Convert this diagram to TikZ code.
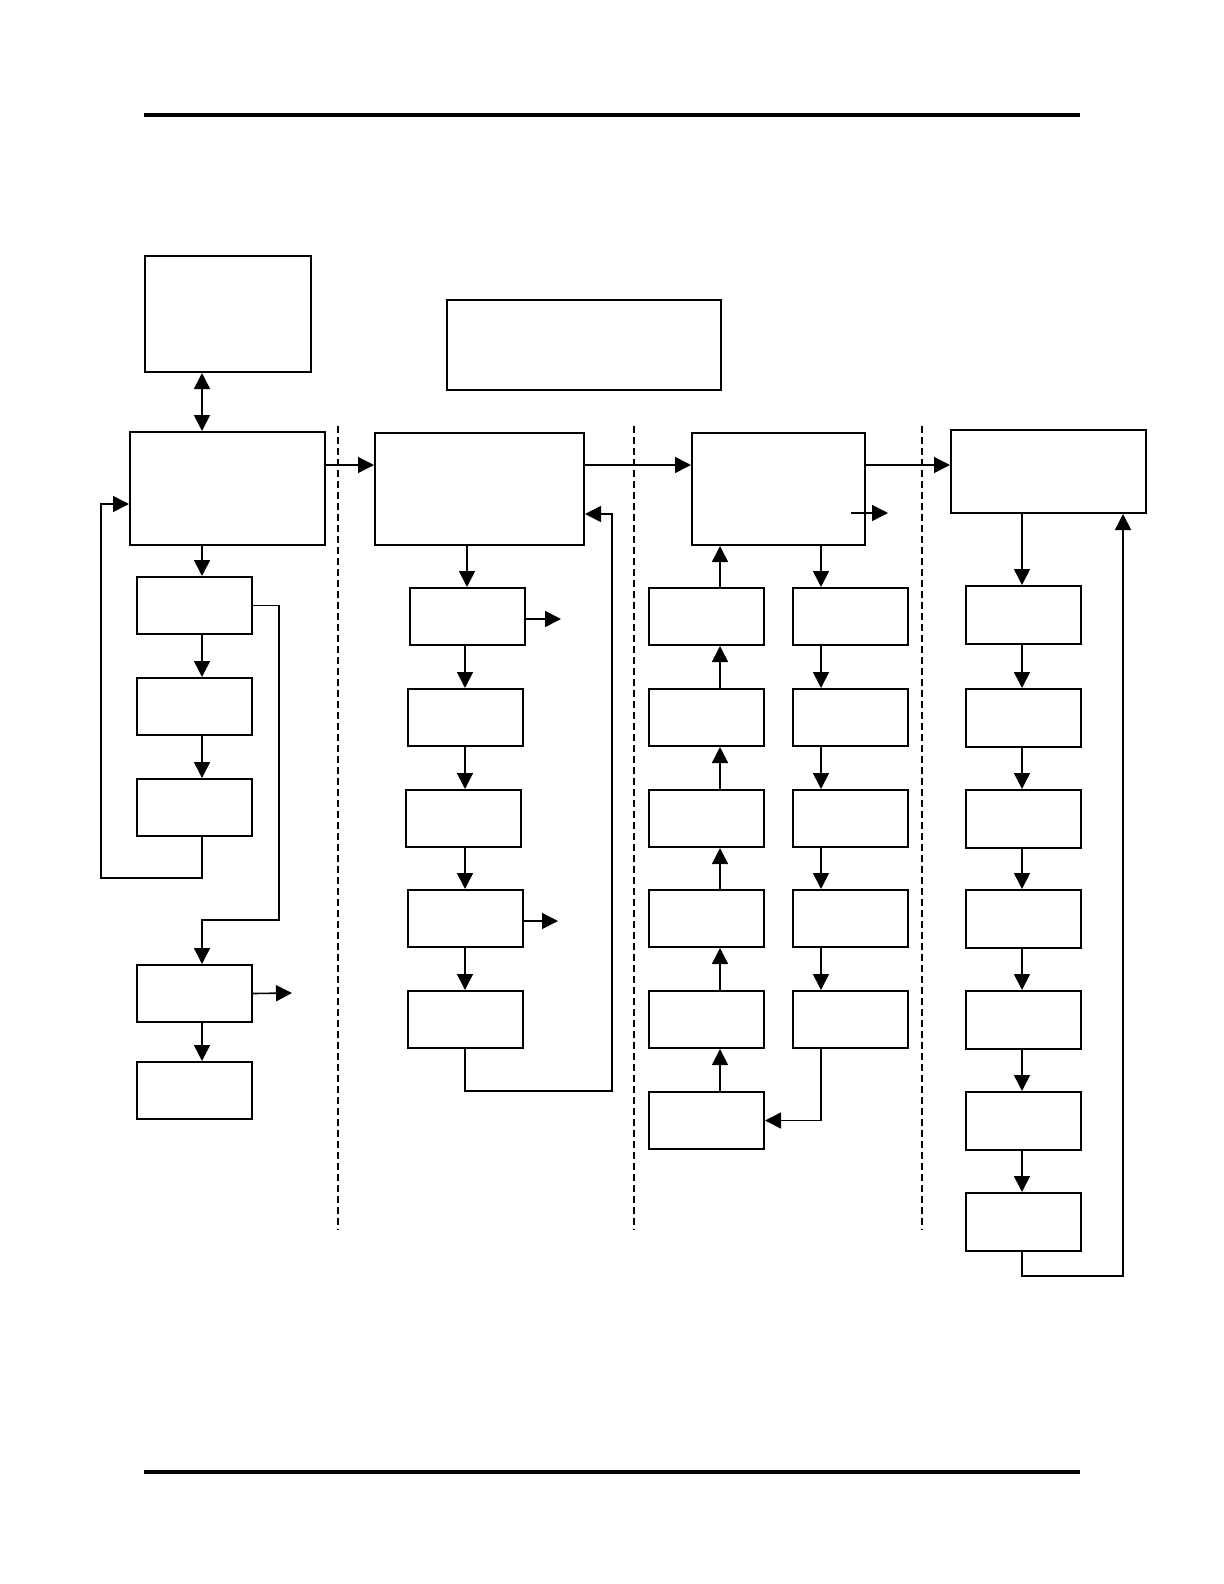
\documentclass[tikz,border=0pt]{standalone}
\usepackage{tikz}
\usetikzlibrary{positioning, arrows.meta, calc}

\begin{document}
\begin{tikzpicture}[
    x=0.5pt, y=-0.5pt,
    >={Triangle[length=8pt, width=8pt]},
    box/.style={draw, line width=1pt, inner sep=0pt, anchor=north west},
    small/.style={box, minimum width=57.5pt, minimum height=28.5pt},
    arr/.style={->, line width=0.8pt},
    sep/.style={line width=0.6pt, dash pattern=on 3.5pt off 2pt},
    rule/.style={line width=1.6pt}
]
\useasboundingbox (0,0) rectangle (1224,1584);

% Page rules
\coordinate (tl) at (144,115);
\coordinate (tr) at (1080,115);
\coordinate (bl) at (144,1472);
\coordinate (br) at (1080,1472);
\draw[rule] (tl) -- (tr);
\draw[rule] (bl) -- (br);

% Column separators
\draw[sep] (338,426) -- (338,1230);
\draw[sep] (634,426) -- (634,1230);
\draw[sep] (922,426) -- (922,1230);

% Top boxes
\node[box, minimum width=83pt, minimum height=58pt] (A) at (144,255) {};
\node[box, minimum width=137pt, minimum height=45pt] (B) at (446,299) {};

% Main boxes
\node[box, minimum width=97.5pt, minimum height=56.5pt] (C1) at (129,431) {};
\node[box, minimum width=104.5pt, minimum height=56pt] (C2) at (374,432) {};
\node[box, minimum width=86.5pt, minimum height=56pt] (C3) at (691,432) {};
\node[box, minimum width=97.5pt, minimum height=41.5pt] (C4) at (950,429) {};

% Column 1
\node[small] (L1) at (136,576) {};
\node[small] (L2) at (136,677) {};
\node[small] (L3) at (136,778) {};
\node[small] (L4) at (136,964) {};
\node[small] (L5) at (136,1061) {};

% Column 2
\node[small] (M1) at (409,587) {};
\node[small] (M2) at (407,688) {};
\node[small] (M3) at (405,789) {};
\node[small] (M4) at (407,889) {};
\node[small] (M5) at (407,990) {};

% Column 3
\foreach \i/\y in {1/587, 2/688, 3/789, 4/889, 5/990, 6/1091}
  \node[small] (U\i) at (648,\y) {};
\foreach \i/\y in {1/587, 2/688, 3/789, 4/889, 5/990}
  \node[small] (R\i) at (792,\y) {};

% Column 4
\foreach \i/\y in {1/585, 2/688, 3/789, 4/889, 5/990, 6/1091, 7/1192}
  \node[small, minimum height=29pt] (D\i) at (965,\y) {};

% Helper coordinates
\coordinate (colA) at (202,0);
\coordinate (colB) at (465,0);
\coordinate (colB1) at (467,0);
\coordinate (colU) at (720,0);
\coordinate (colR) at (821,0);
\coordinate (colD) at (1022,0);
\coordinate (rowH) at (0,465);
\coordinate (fbL) at (101,878);
\coordinate (skip) at (279,920);
\coordinate (fbM) at (612,1091);
\coordinate (fbD) at (1123,1276);
\coordinate (outL4) at (292,993);
\coordinate (outM1) at (561,619);
\coordinate (outM4) at (558,921);
\coordinate (outC3) at (888,513);

% Top links
\draw[<->, line width=0.8pt] (A.south -| colA) -- (C1.north -| colA);
\draw[arr] (C1.east |- rowH) -- (C2.west |- rowH);
\draw[arr] (C2.east |- rowH) -- (C3.west |- rowH);
\draw[arr] (C3.east |- rowH) -- (C4.west |- rowH);

% Column 1 links
\draw[arr] (C1.south -| colA) -- (L1.north -| colA);
\draw[arr] (L1.south -| colA) -- (L2.north -| colA);
\draw[arr] (L2.south -| colA) -- (L3.north -| colA);
\draw[arr] (L3.south -| colA) |- (fbL) |- ([yshift=-7.75pt]C1.west);
\draw[arr] (L1.east) -| (skip) -| (L4.north -| colA);
\draw[arr] (L4.east) -- (outL4);
\draw[arr] (L4.south -| colA) -- (L5.north -| colA);

% Column 2 links
\draw[arr] (C2.south -| colB1) -- (M1.north -| colB1);
\draw[arr] (M1.south -| colB) -- (M2.north -| colB);
\draw[arr] (M2.south -| colB) -- (M3.north -| colB);
\draw[arr] (M3.south -| colB) -- (M4.north -| colB);
\draw[arr] (M4.south -| colB) -- (M5.north -| colB);
\draw[arr] (M1.east |- outM1) -- (outM1);
\draw[arr] (M4.east |- outM4) -- (outM4);
\draw[arr] (M5.south -| colB) |- (fbM) |- ([yshift=-12.5pt]C2.east);

% Column 3 links
\draw[arr] (U1.north -| colU) -- (C3.south -| colU);
\foreach \a/\b in {2/1, 3/2, 4/3, 5/4, 6/5}
  \draw[arr] (U\a.north -| colU) -- (U\b.south -| colU);
\draw[arr] (C3.south -| colR) -- (R1.north -| colR);
\foreach \a/\b in {1/2, 2/3, 3/4, 4/5}
  \draw[arr] (R\a.south -| colR) -- (R\b.north -| colR);
\draw[arr] (R5.south -| colR) |- (U6.east);
\draw[arr] ($(C3.east |- outC3)+(-15,0)$) -- (outC3);

% Column 4 links
\draw[arr] (C4.south -| colD) -- (D1.north -| colD);
\foreach \a/\b in {1/2, 2/3, 3/4, 4/5, 5/6, 6/7}
  \draw[arr] (D\a.south -| colD) -- (D\b.north -| colD);
\draw[arr] (D7.south -| colD) |- (fbD) -- (C4.south -| fbD);

\end{tikzpicture}
\end{document}
